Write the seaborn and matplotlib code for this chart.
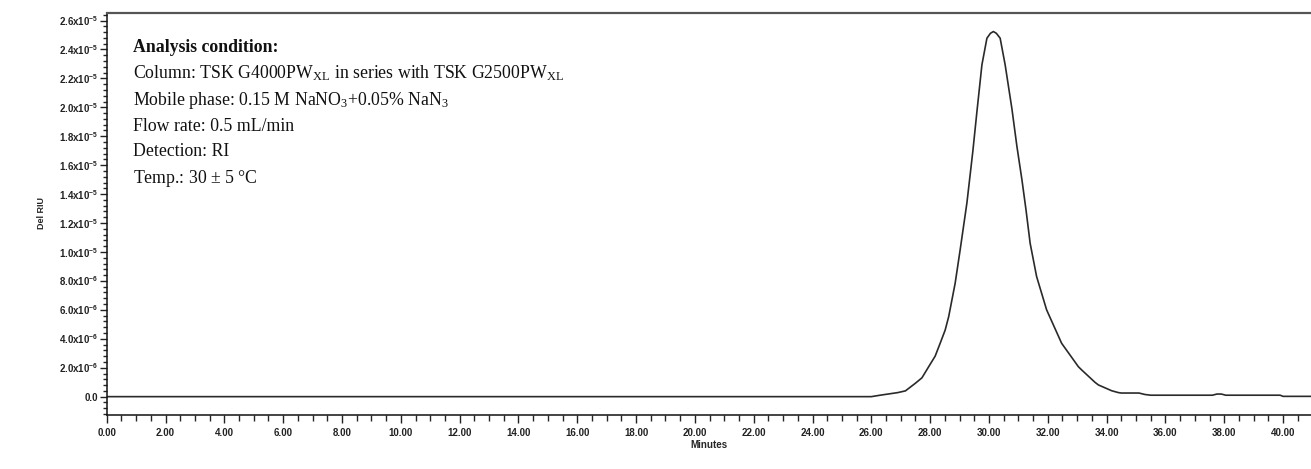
import numpy as np
import pandas as pd
import matplotlib
matplotlib.use("Agg")
import matplotlib.pyplot as plt
from matplotlib.ticker import MultipleLocator, FuncFormatter
import seaborn as sns

# ---- data ----
minutes = [0.0, 26.0, 26.3, 26.9, 27.16, 27.5, 27.72, 27.95, 28.17, 28.34, 28.51,
           28.63, 28.85, 29.02, 29.25, 29.45, 29.59, 29.76, 29.93, 30.05, 30.15,
           30.25, 30.38, 30.55, 30.78, 30.95, 31.12, 31.26, 31.40, 31.62, 31.96,
           32.47, 33.04, 33.15, 33.6, 33.72, 34.17, 34.4, 34.5, 35.1, 35.3, 35.5,
           37.6, 37.75, 37.9, 38.05, 39.9, 40.0, 41.0]
signal_e6 = [0.0, 0.0, 0.1, 0.28, 0.4, 0.93, 1.3, 2.07, 2.8, 3.69, 4.6,
             5.53, 7.84, 10.15, 13.4, 16.94, 19.7, 22.94, 24.78, 25.12, 25.24,
             25.12, 24.78, 22.94, 19.9, 17.3, 15.0, 12.9, 10.6, 8.3, 6.0,
             3.69, 2.07, 1.85, 1.0, 0.81, 0.41, 0.28, 0.25, 0.25, 0.15, 0.1,
             0.1, 0.18, 0.18, 0.1, 0.1, 0.02, 0.02]

annotation_lines = [
    r"Analysis condition:",
    r"Column: TSK G4000PW$_{\mathrm{XL}}$ in series with TSK G2500PW$_{\mathrm{XL}}$",
    r"Mobile phase: 0.15 M NaNO$_{\mathrm{3}}$+0.05% NaN$_{\mathrm{3}}$",
    r"Flow rate: 0.5 mL/min",
    r"Detection: RI",
    r"Temp.: 30 $\pm$ 5 °C",
]

df = pd.DataFrame({"Minutes": minutes, "DelRIU": np.array(signal_e6) * 1e-6})

sns.set_style("ticks")
plt.rcParams["font.family"] = ["Liberation Sans", "DejaVu Sans"]
plt.rcParams["mathtext.fontset"] = "custom"
plt.rcParams["mathtext.rm"] = "Liberation Serif"
plt.rcParams["mathtext.sf"] = "Liberation Sans:bold"
plt.rcParams["mathtext.it"] = "Liberation Serif:italic"
plt.rcParams["mathtext.bf"] = "Liberation Serif:bold"

fig = plt.figure(figsize=(13.11, 4.69), dpi=100)
ax = fig.add_axes([0.0814, 0.1151, 0.9186, 0.8565])

sns.lineplot(data=df, x="Minutes", y="DelRIU", ax=ax, color="#2a2a2a",
             linewidth=1.2, estimator=None, sort=False)

ax.set_xlim(0, 40.95)
ax.set_ylim(-1.27e-6, 2.65e-5)

ax.xaxis.set_major_locator(MultipleLocator(2))
ax.xaxis.set_minor_locator(MultipleLocator(0.5))
ax.yaxis.set_major_locator(MultipleLocator(2e-6))
ax.yaxis.set_minor_locator(MultipleLocator(4e-7))

def yfmt(v, pos):
    if abs(v) < 1e-12:
        return "0.0"
    exp = int(np.floor(np.log10(abs(v)) + 1e-9))
    mant = v / 10 ** exp
    return r"%.1fx10$^{\mathsf{%d}}$" % (mant, exp)

ax.yaxis.set_major_formatter(FuncFormatter(yfmt))
ax.xaxis.set_major_formatter(FuncFormatter(lambda v, p: "%.2f" % v))

ax.tick_params(axis="both", which="major", labelsize=7, colors="#222222",
               direction="out", width=1.0)
ax.tick_params(axis="x", which="major", length=6, pad=3)
ax.tick_params(axis="x", which="minor", length=4, width=1.0, direction="out")
ax.tick_params(axis="y", which="major", length=5, pad=1)
ax.tick_params(axis="y", which="minor", length=3, width=1.0, direction="out")
for lab in ax.get_xticklabels() + ax.get_yticklabels():
    lab.set_fontweight("bold")

ax.set_xlabel("Minutes", fontsize=7, fontweight="bold", labelpad=2)
ax.set_ylabel("Del RIU", fontsize=6.5, fontweight="bold")
ax.yaxis.set_label_coords(-0.0504, 0.503)

for side in ["left", "bottom"]:
    ax.spines[side].set_color("#111111")
    ax.spines[side].set_linewidth(1.1)
ax.spines["top"].set_visible(True)
ax.spines["top"].set_color("#555555")
ax.spines["top"].set_linewidth(1.6)
ax.spines["right"].set_visible(False)

ys = [0.916, 0.851, 0.784, 0.719, 0.655, 0.590]
for i, (line, yy) in enumerate(zip(annotation_lines, ys)):
    ax.text(0.0218, yy, line, transform=ax.transAxes, fontsize=12.8,
            family=["Liberation Serif", "DejaVu Serif"],
            fontweight="bold" if i == 0 else "normal",
            va="center", ha="left", color="#111111")

fig.savefig("out.png", dpi=100)
